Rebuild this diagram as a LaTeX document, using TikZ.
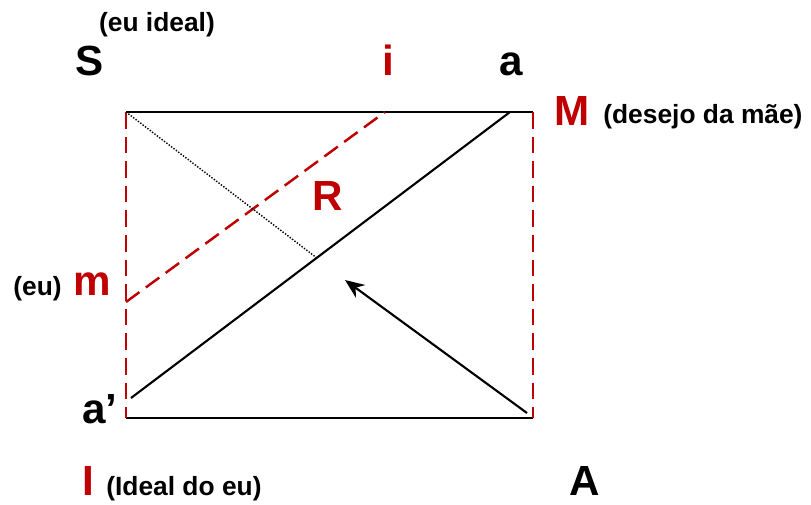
\documentclass[tikz,border=0pt]{standalone}
\usepackage{fontspec}
\setmainfont{Liberation Sans}
\usetikzlibrary{positioning, arrows.meta, calc}
\definecolor{schema_red}{RGB}{192, 0, 0}

\begin{document}
\begin{tikzpicture}[x=0.02cm, y=-0.02cm, >=Stealth,
      big/.style={font=\bfseries\fontsize{24}{28}\selectfont, anchor=base, inner sep=0pt},
      small/.style={font=\bfseries\fontsize{15}{18}\selectfont, anchor=base, inner sep=0pt},
      redline/.style={draw=schema_red, line width=1.4pt, dash pattern=on 9.5pt off 4.5pt},
      blackline/.style={draw=black, line width=1.2pt}]
    \useasboundingbox (0,0) rectangle (811,504);
    % corners of the square
    \coordinate (tl) at (126,112);
    \coordinate (tr) at (533,112);
    \coordinate (bl) at (126,418);
    \coordinate (br) at (533,418);
    \coordinate (diagtop) at (510,112);
    \coordinate (diagbot) at (131,398);
    \coordinate (mpt) at (126,302);
    \coordinate (ipt) at (385,112);
    \coordinate (arrstart) at (527,413);
    \coordinate (arrend) at (345,280);
    \coordinate (dotend) at ($(diagbot)!0.49!(diagtop)$);
    % letters
    \node[small] (euideal) at (157,31) {(eu ideal)};
    \node[big] (S) at (90,75) {S};
    \node[big, text=schema_red] (i) at (388,75) {i};
    \node[big] (a) at (511,75) {a};
    \node[big, text=schema_red] (M) at (572,125) {M};
    \node[small, anchor=base west] (desejo) at (603,123) {(desejo da mãe)};
    \node[big, text=schema_red] (R) at (328,210) {R};
    \node[small, anchor=base west] (eu) at (13,295) {(eu)};
    \node[big, text=schema_red] (m) at (92,295) {m};
    \node[big] (aprime) at (100,423) {a’};
    \node[big, text=schema_red] (I) at (88,495) {I};
    \node[small, anchor=base west] (idealdoeu) at (106,495) {(Ideal do eu)};
    \node[big] (A) at (585,495) {A};
    % lines
    \draw[blackline] (tl) -- (tr);
    \draw[blackline] (bl) -- (br);
    \draw[redline] (tl) -- (bl);
    \draw[redline] (tr) -- (br);
    \draw[blackline] (diagbot) -- (diagtop);
    \draw[redline] (mpt) -- (ipt);
    \draw[line width=0.8pt, dash pattern=on 0.8pt off 0.9pt] (tl) -- (dotend);
    \draw[->, blackline, -{Stealth[length=11pt, width=9pt]}] (arrstart) -- (arrend);
  \end{tikzpicture}
\end{document}
